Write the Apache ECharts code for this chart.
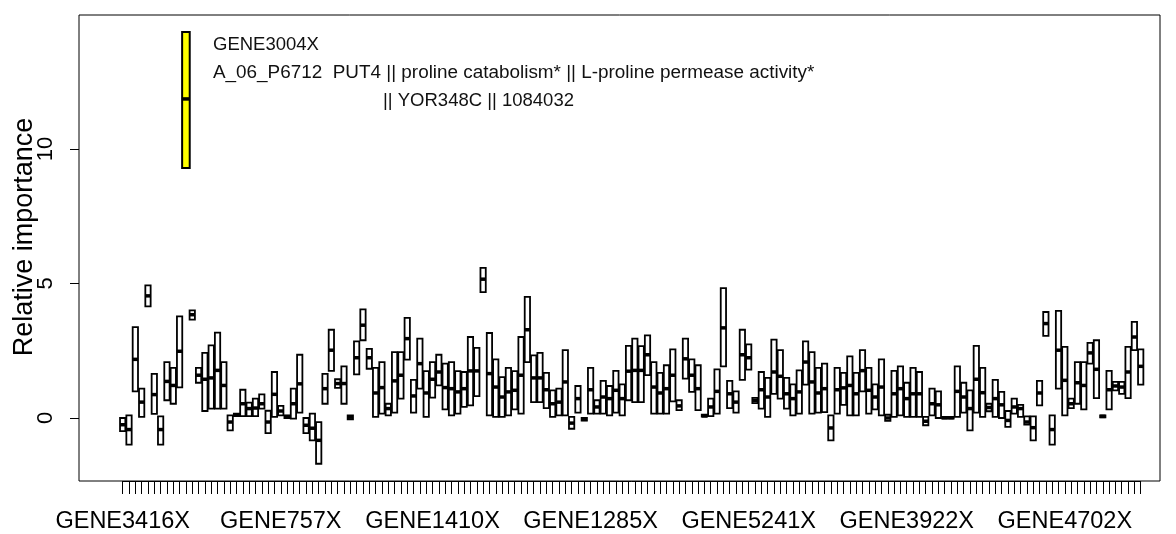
<!DOCTYPE html>
<html><head><meta charset="utf-8">
<script src="https://cdn.jsdelivr.net/npm/echarts@6/dist/echarts.min.js"></script>
<style>html,body{margin:0;padding:0;background:#fff}#c{width:1176px;height:534px}</style>
</head><body><div id="c"></div>
<script>
// lower edge, median, upper edge of each gene's box (relative importance)
const lows = [-0.49,-0.99,0.99,0.04,4.15,0.15,-0.99,0.66,0.53,1.14,
  9.29,3.66,1.31,0.26,0.35,0.35,0.35,-0.46,0.07,0.07,
  0.07,0.07,0.35,-0.56,0.04,0.10,0.00,-0.02,0.20,-0.56,
  -0.83,-1.70,0.53,1.75,1.12,0.53,-0.05,1.62,2.89,1.83,
  0.04,0.16,0.10,0.20,0.72,2.17,0.20,1.09,0.04,0.76,
  1.21,0.32,0.10,0.16,0.41,0.47,0.81,4.68,0.10,0.04,
  0.04,0.10,0.32,0.16,2.08,0.59,0.59,0.37,0.04,0.10,
  0.10,-0.40,0.20,-0.10,0.16,0.16,0.16,0.10,0.20,0.10,
  0.66,0.59,0.59,1.59,0.16,0.16,0.16,0.62,0.29,1.46,
  0.97,0.29,0.05,0.07,0.16,1.92,0.37,0.20,1.42,1.80,
  0.55,0.35,0.04,0.90,0.72,0.35,0.10,0.16,1.24,0.16,
  0.20,0.22,-0.83,0.16,0.49,0.10,0.10,0.99,0.16,0.32,
  0.10,-0.11,0.04,0.10,0.04,0.04,0.04,-0.27,0.10,0.00,
  -0.02,-0.02,0.04,0.20,-0.46,0.20,0.04,0.25,0.04,0.00,
  -0.33,0.16,0.04,-0.25,-0.83,0.47,3.05,-0.99,1.09,0.10,
  0.37,0.53,0.32,2.02,0.74,0.02,0.32,1.03,0.90,0.74,
  2.52,1.24];
const medians = [-0.25,-0.43,2.18,0.59,4.54,0.87,-0.43,1.36,1.21,2.48,
  11.86,3.84,1.59,1.44,1.49,1.77,1.21,-0.15,0.12,0.53,
  0.35,0.37,0.53,-0.15,0.88,0.26,0.05,0.53,1.27,-0.27,
  -0.38,-0.83,1.09,2.52,1.28,1.28,0.03,2.24,3.45,2.24,
  0.93,1.13,0.35,1.38,1.59,2.95,0.82,2.02,0.93,1.44,
  1.71,1.13,1.09,0.97,1.09,1.75,1.75,5.16,1.65,1.15,
  0.78,0.97,1.03,1.59,3.28,1.49,1.49,1.05,0.53,0.59,
  1.34,-0.19,0.72,-0.05,1.05,0.41,0.78,0.72,1.03,0.72,
  1.74,1.77,1.77,2.35,1.15,0.93,1.09,1.59,0.45,2.20,
  1.59,1.09,0.08,0.41,0.99,3.35,0.90,0.59,2.35,2.24,
  0.65,1.05,0.78,1.71,1.55,0.90,0.72,0.97,2.08,1.34,
  0.93,1.09,-0.37,1.05,1.12,1.21,0.90,1.76,1.03,0.78,
  1.15,0.00,0.90,1.09,0.72,0.90,0.90,-0.12,0.53,0.49,
  0.01,0.01,0.99,0.78,0.35,1.44,0.94,0.39,0.72,0.49,
  -0.09,0.41,0.35,-0.15,-0.36,0.93,3.51,-0.43,2.52,1.40,
  0.53,1.31,1.21,2.42,1.81,0.06,1.05,1.19,1.15,1.71,
  3.01,1.92];
const highs = [0.00,0.10,3.38,1.09,4.93,1.64,0.06,2.08,1.86,3.78,
  14.35,4.00,1.86,2.42,2.70,3.17,2.08,0.10,0.16,1.05,
  0.57,0.72,0.88,0.27,1.71,0.45,0.10,1.09,2.35,0.00,
  0.16,-0.15,1.64,3.28,1.44,1.92,0.10,2.85,4.04,2.57,
  1.86,2.08,0.53,2.45,2.45,3.72,1.42,2.95,1.74,2.08,
  2.35,2.02,2.08,1.74,1.71,3.01,2.61,5.58,3.16,2.18,
  1.52,1.86,1.74,3.01,4.50,2.33,2.42,1.68,1.03,1.09,
  2.52,0.04,1.19,0.00,1.86,0.66,1.38,1.19,1.75,1.25,
  2.68,2.95,2.67,3.07,2.08,1.68,1.96,2.55,0.66,2.95,
  2.18,1.96,0.12,0.72,1.81,4.83,1.38,0.99,3.28,2.74,
  0.75,1.71,1.49,2.91,2.52,1.49,1.25,1.77,2.85,2.45,
  1.86,2.02,0.10,1.86,1.68,2.29,1.68,2.52,1.86,1.25,
  2.18,0.12,1.75,1.92,1.31,1.86,1.71,0.04,1.09,0.99,
  0.04,0.04,1.92,1.31,1.03,2.68,1.86,0.53,1.42,0.97,
  0.26,0.72,0.49,0.06,0.06,1.38,3.94,0.10,3.98,2.64,
  0.72,2.08,2.08,2.79,2.89,0.10,1.75,1.34,1.34,2.64,
  3.57,2.55];
const highlightIndex = 10;
const tickLabels = ['GENE3416X','GENE757X','GENE1410X','GENE1285X','GENE5241X','GENE3922X','GENE4702X'];
const tickLabelAt = [0,25,49,74,99,124,149];
const yTickValues = [0,5,10];
const yTitle = 'Relative importance';
const noteTitle = 'GENE3004X';
const noteLine2 = 'A_06_P6712  PUT4 || proline catabolism* || L-proline permease activity*';
const noteLine3 = '|| YOR348C || 1084032';

const n = lows.length;
const categories = Array.from({length:n}, () => '');
tickLabelAt.forEach((p, k) => { categories[p] = tickLabels[k]; });
const FONT = "'Liberation Sans', Arial, sans-serif";

const chart = echarts.init(document.getElementById('c'), null, {renderer:'canvas'});
chart.setOption({
  animation:false,
  backgroundColor:'#fff',
  textStyle:{fontFamily:FONT},
  grid:[
    {left:79, top:15, width:1081, height:466, show:true, borderColor:'#000', borderWidth:1, backgroundColor:'transparent'},
    {left:122.7, top:15, width:1018, height:466},
    {left:79, top:149, width:1081, height:269}
  ],
  xAxis:[
    {type:'value', gridIndex:0, min:-6.91, max:164.05, show:false},
    {type:'category', gridIndex:1, data:categories, boundaryGap:false,
      axisLine:{show:true, lineStyle:{color:'#000', width:1}},
      axisTick:{show:true, interval:0, length:13, lineStyle:{color:'#000', width:1}},
      axisLabel:{interval:0, fontSize:23.5, color:'#000', margin:29, fontFamily:FONT},
      splitLine:{show:false}},
    {type:'value', gridIndex:2, show:false}
  ],
  yAxis:[
    {type:'value', gridIndex:0, min:-2.342, max:14.98, show:false},
    {type:'value', gridIndex:1, show:false},
    {type:'value', gridIndex:2, min:yTickValues[0], max:yTickValues[yTickValues.length-1], interval:yTickValues[1]-yTickValues[0],
      axisLine:{show:false},
      axisTick:{show:true, length:9, lineStyle:{color:'#000', width:1}},
      axisLabel:{rotate:90, fontSize:22, color:'#000', margin:22, fontFamily:FONT},
      splitLine:{show:false}}
  ],
  series:[{
    type:'custom', xAxisIndex:0, yAxisIndex:0, clip:false,
    data: lows.map((l,i)=>[i, l, medians[i], highs[i]]),
    encode:{x:0, y:[1,3]},
    renderItem:function(params, api){
      const i = api.value(0), lo = api.value(1), md = api.value(2), hi = api.value(3);
      const hl = i === highlightIndex;
      const hw = hl ? 0.6 : 0.42;
      const a = api.coord([i - hw, hi]);
      const b = api.coord([i + hw, lo]);
      const m1 = api.coord([i - hw, md]);
      const m2 = api.coord([i + hw, md]);
      return {type:'group', children:[
        {type:'rect', shape:{x:a[0], y:a[1], width:b[0]-a[0], height:Math.max(b[1]-a[1], 0.5)},
          style:{fill: hl ? '#ffff00' : 'none', stroke:'#000', lineWidth: hl ? 2 : 1.8}},
        {type:'line', shape:{x1:m1[0], y1:m1[1], x2:m2[0], y2:m2[1]},
          style:{stroke:'#000', lineWidth:3.5}}
      ]};
    }
  }],
  graphic:[
    {type:'text', x:25, y:237, rotation:Math.PI/2,
      style:{text:yTitle, font:"27px 'Liberation Sans', Arial, sans-serif", fill:'#000', textAlign:'center', textVerticalAlign:'middle'}},
    {type:'text', x:213, y:45,
      style:{text:noteTitle, font:"18.5px 'Liberation Sans', Arial, sans-serif", fill:'#111', textAlign:'left', textVerticalAlign:'middle'}},
    {type:'text', x:213, y:73,
      style:{text:noteLine2, font:"18.9px 'Liberation Sans', Arial, sans-serif", fill:'#111', textAlign:'left', textVerticalAlign:'middle'}},
    {type:'text', x:383, y:101,
      style:{text:noteLine3, font:"18.5px 'Liberation Sans', Arial, sans-serif", fill:'#111', textAlign:'left', textVerticalAlign:'middle'}}
  ]
});
</script></body></html>
